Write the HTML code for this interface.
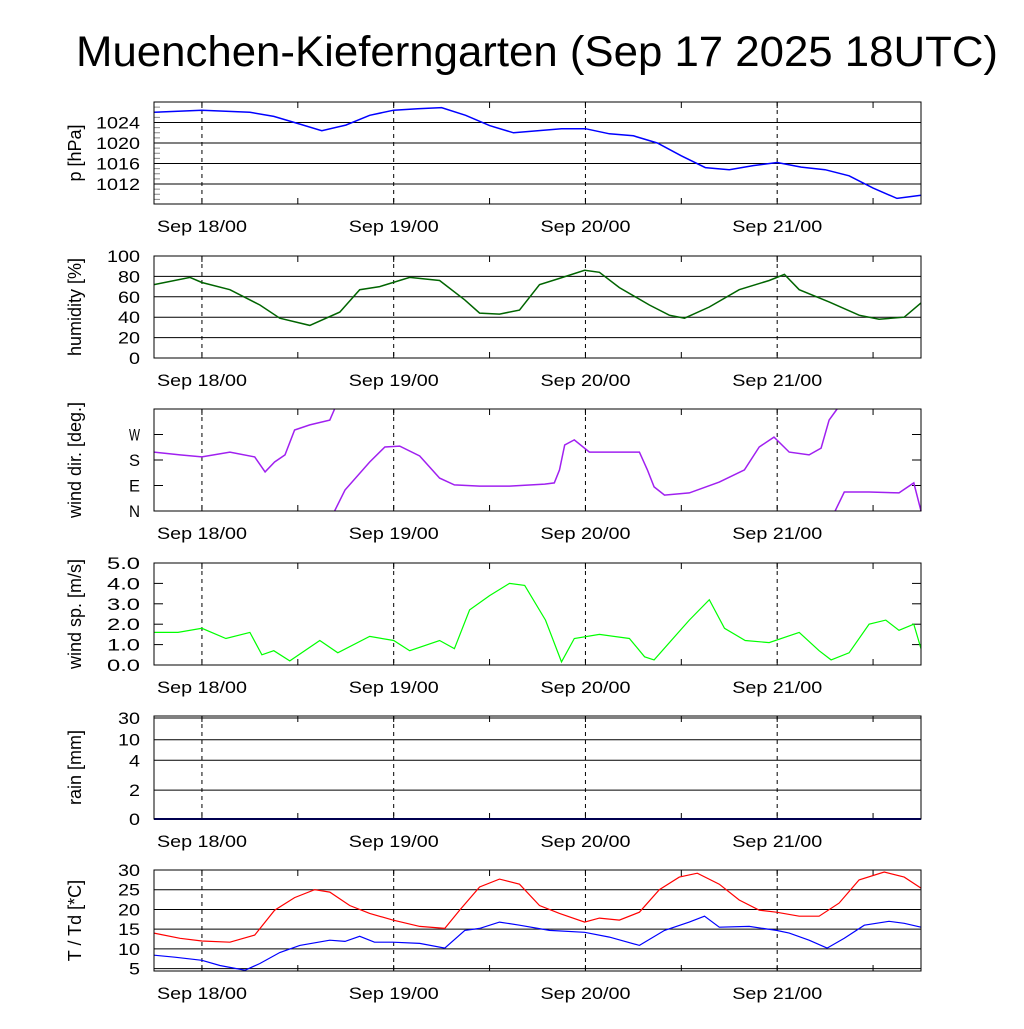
<!DOCTYPE html>
<html><head><meta charset="utf-8">
<style>
html,body{margin:0;padding:0;background:#fff;}
svg text{font-family:"Liberation Sans",sans-serif;}
</style></head>
<body>
<svg id="chart" width="1024" height="1024" viewBox="0 0 1024 1024" xmlns="http://www.w3.org/2000/svg">
<text x="537" y="66" font-size="43" text-anchor="middle" textLength="922" lengthAdjust="spacingAndGlyphs">Muenchen-Kieferngarten (Sep 17 2025 18UTC)</text>
</svg>
<script>
// ---- data (time in hours since Sep 17 18UTC) ----
const dayLabels = ["Sep 18/00","Sep 19/00","Sep 20/00","Sep 21/00"];
const dayHours = [6,30,54,78];
const pTimes = [0,3,6,9,12,15,18,21,24,27,30,33,36,39,42,45,48,51,54,57,60,63,66,69,72,75,78,81,84,87,90,93,96];
const pValues = [1026,1026.2,1026.4,1026.2,1026,1025.2,1023.8,1022.4,1023.5,1025.4,1026.4,1026.7,1026.9,1025.4,1023.4,1022,1022.4,1022.8,1022.8,1021.8,1021.4,1020,1017.5,1015.2,1014.8,1015.6,1016.2,1015.3,1014.8,1013.6,1011.2,1009.2,1009.8];
const pTicks = [1012,1016,1020,1024];
const hTimes = [0,4.5,6,9.5,13.25,15.75,19.5,23.25,25.75,28.25,32,35.75,38.9,40.75,43.25,45.75,48.25,50.75,53.9,55.75,58.25,62,64.5,66.4,69.5,73.25,77,78.9,80.75,84.5,88.25,90.75,93.9,96];
const hValues = [72,79,74,67,52,39,32,45,67,70,79,76,57,44,43,47,72,78,86,84,69,52,42,39,50,67,76,82,67,55,42,38,40,54];
const hTicks = [0,20,40,60,80,100];
const dTimes = [0,3.25,6,9.5,12.6,13.9,15.1,16.4,17.6,19.5,22,22.6,null,22.6,23.9,27,28.9,30.75,33.25,35.75,37.6,40.75,44.5,48.9,50.1,50.75,51.4,52.6,54.5,57.6,60.75,61.75,62.6,63.9,67,70.75,73.9,75.75,77.6,79.5,82,83.5,84.5,85.5,null,85.25,86.4,89.5,93.25,95.1,96];
const dValues = [208,198,191,208,191,138,173,198,286,304,321,360,null,0,74,173,226,229,194,116,92,88,88,95,99,145,233,251,208,208,208,145,85,56,64,102,145,226,261,208,198,222,321,360,null,0,67,67,64,99,0];
const dTicks = [0,90,180,270];
const dTickLabels = ["N","E","S","W"];
const sTimes = [0,3,6,9,12,13.5,15,17,20.75,23,27,30,32,35.75,37.6,39.5,42,44.5,46.4,49,51,52.6,55.75,59.5,61.4,62.6,67,69.5,71.4,74,77,80.75,83.25,84.75,87,89.5,91.6,93.25,95.1,96];
const sValues = [1.6,1.6,1.8,1.3,1.6,0.5,0.7,0.2,1.2,0.6,1.4,1.2,0.7,1.2,0.8,2.7,3.4,4.0,3.9,2.2,0.15,1.3,1.5,1.3,0.4,0.25,2.2,3.2,1.8,1.2,1.1,1.6,0.7,0.25,0.6,2.0,2.2,1.7,2.0,0.8];
const sTicks = [0,1,2,3,4,5];
const sTickLabels = ["0.0","1.0","2.0","3.0","4.0","5.0"];
const rTimes = [0,96];
const rValues = [0,0];
const rTicks = [0,2,4,10,30];
const rTickY = [0,0.28,0.57,0.77,0.98];
const tTimes = [0,3.25,6,9.5,12.6,15.1,17.6,20.1,22,24.5,27,29.9,33.25,36.4,38.25,40.75,43.25,45.75,48.25,50.75,53.9,55.75,58.25,60.75,63.25,65.75,68,70.75,73.25,75.75,77.9,80.75,83.25,85.75,88.25,91.4,93.9,96];
const tValues = [14,12.7,12,11.7,13.5,19.8,23,25,24.4,21,19,17.3,15.7,15.2,19.8,25.7,27.7,26.4,21,19,16.8,17.8,17.3,19.3,25,28.2,29.2,26.4,22.4,19.8,19.3,18.3,18.3,21.6,27.5,29.5,28.2,25.4];
const tdTimes = [0,2.6,6,8.25,11.4,13.25,15.75,18.25,22,23.9,25.75,27.6,29.9,33.25,36.4,38.9,40.75,43.25,45.75,49.5,53.9,57,60.75,63.9,67,68.9,70.75,74.5,77.9,79.5,82,84.25,86.4,88.9,92,93.9,96];
const tdValues = [8.4,7.9,7.1,5.8,4.6,6.3,9.1,10.9,12.2,11.9,13.2,11.7,11.7,11.4,10.2,14.7,15.2,16.8,16,14.7,14.2,13,10.9,14.7,16.8,18.3,15.5,15.7,14.7,14,12.2,10.2,12.7,16,17,16.5,15.5];
const tTicks = [5,10,15,20,25,30];

// ---- drawing ----
const svg = document.getElementById('chart');
const NS = 'http://www.w3.org/2000/svg';
const X0 = 154, X1 = 921, HMAX = 96;
const xs = h => X0 + (X1 - X0) * h / HMAX;
function mk(tag, attrs, parent){ const e = document.createElementNS(NS, tag); for (const k in attrs) e.setAttribute(k, attrs[k]); (parent||svg).appendChild(e); return e; }

function panel(name, top, bottom, vmin, vmax, title, ticks, labels, grid, series, tickPosFn, minorStep){
  const g = mk('g', {});
  
  
  const ys = tickPosFn ? tickPosFn : (v => bottom - (bottom - top) * (v - vmin) / (vmax - vmin));
  if (minorStep) {
    for (let v = Math.ceil(vmin / minorStep) * minorStep; v <= vmax; v += minorStep) {
      const y = ys(v);
      mk('line', {x1:X0, x2:X0+6, y1:y, y2:y, stroke:'#888'}, g);
    }
  }
  ticks.forEach((t, i) => {
    const y = ys(t, i);
    if (grid) {
      const l = mk('line', {x1:X0, x2:X1, y1:y, y2:y, stroke:'#000', 'stroke-width':1}, g);
      
      
    } else {
      mk('line', {x1:X0, x2:X0+9, y1:y, y2:y, stroke:'#000'}, g);
      mk('line', {x1:X1-9, x2:X1, y1:y, y2:y, stroke:'#000'}, g);
    }
    const s = String(labels[i]);
    const tl = mk('text', {x:X0-14, y:y+6, 'font-size':17, 'text-anchor':'end', textLength:(s.length*11).toFixed(0), lengthAdjust:'spacingAndGlyphs'}, g);
    
    
    tl.textContent = s;
  });
  dayHours.forEach((h, i) => {
    const x = xs(h);
    const dl = mk('line', {x1:x, x2:x, y1:top, y2:bottom, stroke:'#000', 'stroke-dasharray':'4,4'}, g);
    
    
    const xl = mk('text', {x:x, y:bottom+28, 'font-size':17, 'text-anchor':'middle', textLength:90, lengthAdjust:'spacingAndGlyphs'}, g);
    
    
    xl.textContent = dayLabels[i];
  });
  for (let h = 6; h < HMAX; h += 12) {
    const x = xs(h);
    mk('line', {x1:x, x2:x, y1:top, y2:top+6, stroke:'#000'}, g);
    mk('line', {x1:x, x2:x, y1:bottom-6, y2:bottom, stroke:'#000'}, g);
  }
  series.forEach(s => {
    let d = '', pen = false;
    for (let i = 0; i < s.t.length; i++) {
      if (s.t[i] === null || s.v[i] === null) { pen = false; continue; }
      d += (pen ? 'L' : 'M') + xs(s.t[i]).toFixed(1) + ',' + ys(s.v[i]).toFixed(1);
      pen = true;
    }
    const p = mk('path', {d:d, fill:'none', stroke:s.c, 'stroke-width':s.w||1.5}, g);
    
    
  });
  const fr = mk('rect', {x:X0, y:top, width:X1-X0, height:bottom-top, fill:'none', stroke:'#000', 'stroke-width':1}, g);
  
  
  const cy = (top + bottom) / 2;
  const at = mk('text', {x:0, y:0, 'font-size':18, 'text-anchor':'middle', transform:`translate(81,${cy}) rotate(-90)`}, g);
  
  
  at.textContent = title;
}

panel('pressure', 102, 204, 1008.1, 1028, 'p [hPa]', pTicks, pTicks.map(String), true,
  [{t:pTimes, v:pValues, c:'#0000ff', n:'pressure-line'}], null, 1);
panel('humidity', 256, 358, 0, 100, 'humidity [%]', hTicks, hTicks.map(String), true,
  [{t:hTimes, v:hValues, c:'#006400', n:'humidity-line'}]);
panel('wind-direction', 409, 511, 0, 360, 'wind dir. [deg.]', dTicks, dTickLabels, false,
  [{t:dTimes, v:dValues, c:'#a020f0', n:'wind-direction-line'}]);
panel('wind-speed', 563, 665, 0, 5, 'wind sp. [m/s]', sTicks, sTickLabels, false,
  [{t:sTimes, v:sValues, c:'#00ff00', n:'wind-speed-line', w:1.2}]);
const rTop = 716, rBot = 819;
panel('rain', rTop, rBot, 0, 30, 'rain [mm]', rTicks, rTicks.map(String), true,
  [{t:rTimes, v:rValues, c:'#0000a0', n:'rain-line', w:2}],
  (v, i) => { let idx = (i !== undefined) ? i : rTicks.indexOf(v); if (idx < 0) idx = 0; return rBot - (rBot - rTop) * rTickY[idx]; });
panel('temperature', 870, 971, 4.4, 30, 'T / Td [*C]', tTicks, tTicks.map(String), true,
  [{t:tTimes, v:tValues, c:'#ff0000', n:'temperature-line', w:1.2},
   {t:tdTimes, v:tdValues, c:'#0000ff', n:'dewpoint-line', w:1.2}]);
</script>
</body></html>
